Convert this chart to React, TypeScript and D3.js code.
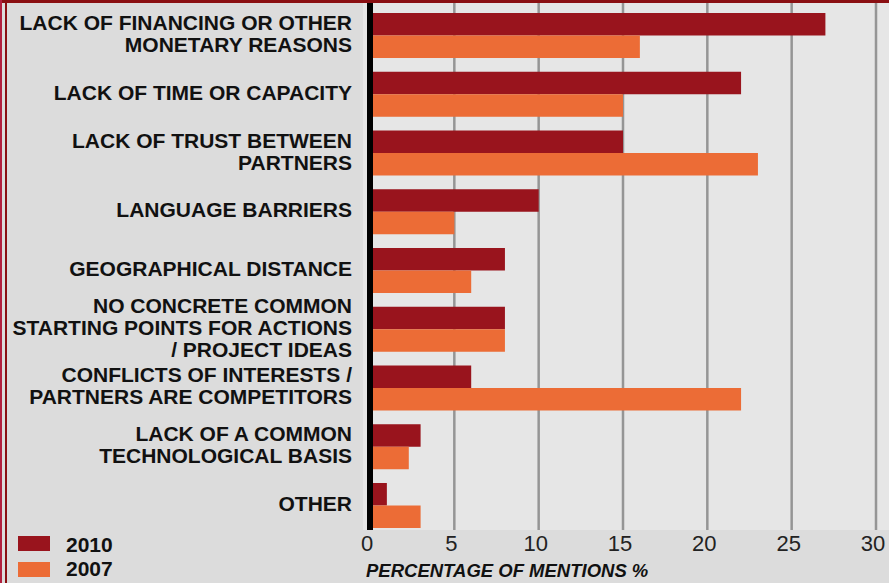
import React from 'react';
import * as d3 from 'd3';

const categories = [
  'LACK OF FINANCING OR OTHER\nMONETARY REASONS',
  'LACK OF TIME OR CAPACITY',
  'LACK OF TRUST BETWEEN\nPARTNERS',
  'LANGUAGE BARRIERS',
  'GEOGRAPHICAL DISTANCE',
  'NO CONCRETE COMMON\nSTARTING POINTS FOR ACTIONS\n/ PROJECT IDEAS',
  'CONFLICTS OF INTERESTS /\nPARTNERS ARE COMPETITORS',
  'LACK OF A COMMON\nTECHNOLOGICAL BASIS',
  'OTHER',
];
const seriesNames = ['2010', '2007'];
const values2010 = [27, 22, 15, 10, 8, 8, 6, 3, 1];
const values2007 = [16, 15, 23, 5, 6, 8, 22, 2.3, 3];
const xTicks = [0, 5, 10, 15, 20, 25, 30];
const xTitle = 'PERCENTAGE OF MENTIONS %';

const W = 889;
const H = 583;
const COLORS = ['#99141d', '#ec6c36'];
const FONT = "'Liberation Sans', Arial, Helvetica, sans-serif";

export default function App() {
  const x = d3.scaleLinear().domain([0, 30]).range([370, 876]);
  const y = d3.scaleBand<string>().domain(categories).range([13, 528]).paddingInner(0.234).paddingOuter(0);
  const ys = d3.scaleBand<string>().domain(seriesNames).range([0, y.bandwidth()]);
  const seriesValues = [values2010, values2007];
  const plotTop = 3;
  const plotBottom = 530;

  return (
    <svg width={W} height={H} style={{ position: 'fixed', left: 0, top: 0, display: 'block' }} fontFamily={FONT}>
      <rect x={0} y={0} width={W} height={H} fill="#dcdcdc" />
      <rect x={363} y={plotTop} width={W - 363} height={plotBottom - plotTop} fill="#e6e6e6" />
      {xTicks.filter((t) => t > 0).map((t) => (
        <line key={t} x1={x(t)} x2={x(t)} y1={plotTop} y2={plotBottom} stroke="#959595" strokeWidth={2.5} />
      ))}
      {categories.map((c, i) => (
        <g key={c}>
          {seriesNames.map((s, j) => (
            <rect
              key={s}
              x={x(0)}
              y={(y(c) as number) + (ys(s) as number)}
              width={x(seriesValues[j][i]) - x(0)}
              height={ys.bandwidth()}
              fill={COLORS[j]}
            />
          ))}
        </g>
      ))}
      <rect x={x(0) - 3} y={plotTop} width={6} height={plotBottom - plotTop} fill="#000" />
      {categories.map((c) => {
        const lines = c.split('\n');
        const cy = (y(c) as number) + y.bandwidth() / 2 - 2;
        return (
          <text key={c} textAnchor="end" fontSize={21} fontWeight="bold" fill="#111">
            {lines.map((l, k) => (
              <tspan key={k} x={352} y={cy + (k - (lines.length - 1) / 2) * 22 + 7.5}>
                {l}
              </tspan>
            ))}
          </text>
        );
      })}
      {xTicks.map((t) => (
        <text key={t} x={x(t) - 3} y={551} textAnchor="middle" fontSize={22} fill="#222">
          {t}
        </text>
      ))}
      <text x={366} y={577} fontSize={18.5} fontWeight="bold" fontStyle="italic" fill="#111">
        {xTitle}
      </text>
      {seriesNames.map((s, j) => (
        <g key={s}>
          <rect x={18} y={536 + j * 26} width={32} height={15} fill={COLORS[j]} />
          <text x={66} y={552 + j * 24} fontSize={21} fontWeight="bold" fill="#111">
            {s}
          </text>
        </g>
      ))}
      <rect x={0} y={0} width={W} height={3} fill="#8a0f12" />
      <rect x={0} y={0} width={2} height={H} fill="#b2203e" />
      <rect x={5} y={0} width={2} height={H} fill="#8a0f12" />
    </svg>
  );
}
